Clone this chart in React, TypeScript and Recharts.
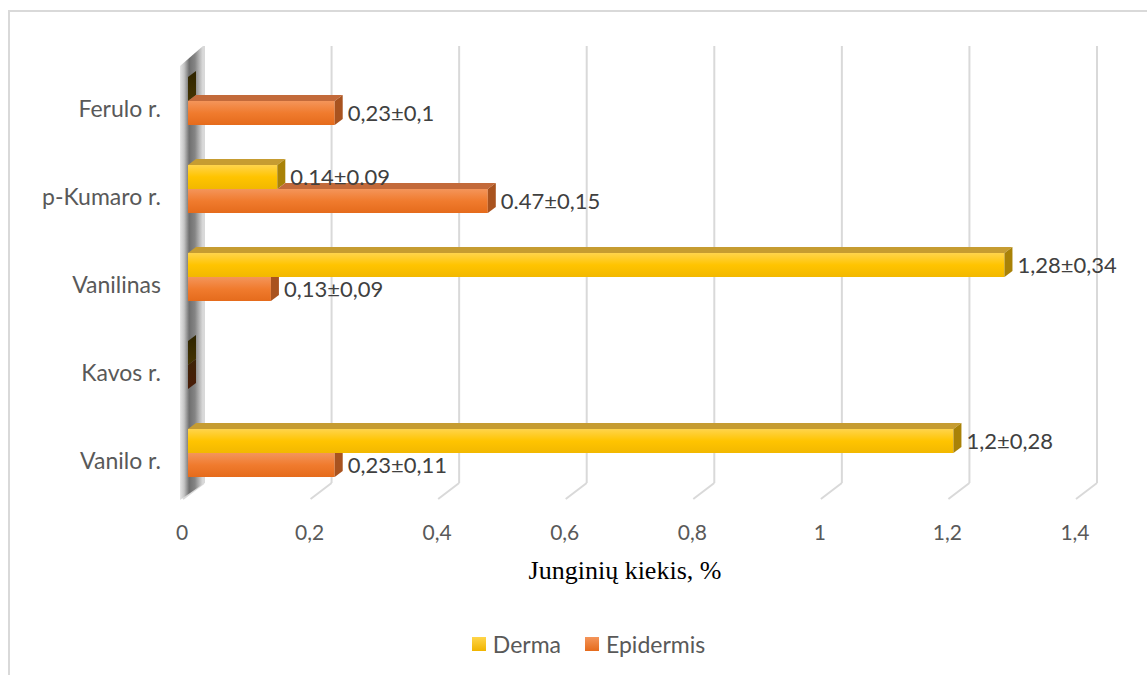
import React from "react";
import { Bar, BarChart, LabelList, Legend, ReferenceLine, XAxis, YAxis } from "recharts";

// categories listed top to bottom, as they appear in the chart
const categories = ["Ferulo r.", "p-Kumaro r.", "Vanilinas", "Kavos r.", "Vanilo r."];
const dermaValues = [0, 0.14, 1.28, 0, 1.2];
const epidermisValues = [0.23, 0.47, 0.13, 0, 0.23];
const dermaLabels = ["", "0.14±0.09", "1,28±0,34", "", "1,2±0,28"];
const epidermisLabels = ["0,23±0,1", "0.47±0,15", "0,13±0,09", "", "0,23±0,11"];
const xTicks = [0, 0.2, 0.4, 0.6, 0.8, 1, 1.2, 1.4];

const data = categories.map((name, i) => ({
  name,
  derma: dermaValues[i],
  epidermis: epidermisValues[i],
  dermaLabel: dermaLabels[i],
  epidermisLabel: epidermisLabels[i],
}));

const W = 1137;
const H = 663;
const PLOT_TOP = 45;
const PLOT_BOTTOM = 484;
// fake 3D depth of the bars
const DX = 8;
const DY = 6;

const FONT = "Lato, 'Noto Sans', sans-serif";
const TEXT = "#595959";

const fmtTick = (v: number) => String(v).replace(".", ",");

function GridShape(props: any) {
  const x = props.x1;
  const bx = x + 16;
  return (
    <g>
      <line x1={bx} y1={PLOT_TOP - 11} x2={bx} y2={PLOT_BOTTOM - 13} stroke="#d9d9d9" strokeWidth={2} />
      <line x1={bx} y1={PLOT_BOTTOM - 13} x2={x - 5} y2={PLOT_BOTTOM + 3} stroke="#d9d9d9" strokeWidth={2} />
    </g>
  );
}

function WallShape(props: any) {
  const x = props.x1;
  const pts = [
    [x - 8, PLOT_TOP + 9],
    [x + 15, PLOT_TOP - 11],
    [x + 15, PLOT_BOTTOM - 12],
    [x - 8, PLOT_BOTTOM + 4],
  ]
    .map((p) => p.join(","))
    .join(" ");
  return <polygon points={pts} fill="url(#wallGrad)" />;
}

function poly(p: number[][]) {
  return p.map((q) => q.join(",")).join(" ");
}

function DermaShape(props: any) {
  const { x, y, width, height } = props;
  if (width <= 0.5) {
    return (
      <polygon
        points={poly([[x, y], [x + DX, y - DY], [x + DX, y + height - DY], [x, y + height]])}
        fill="url(#darkYellow)"
      />
    );
  }
  return (
    <g>
      <rect x={x} y={y} width={width} height={height} fill="url(#yellowFront)" />
      <polygon points={poly([[x, y], [x + width, y], [x + width + DX, y - DY], [x + DX, y - DY]])} fill="#c69c31" />
      <polygon
        points={poly([[x + width, y], [x + width + DX, y - DY], [x + width + DX, y + height - DY], [x + width, y + height]])}
        fill="#a98207"
      />
    </g>
  );
}

function EpidermisShape(props: any) {
  const { x, y, width, height, payload } = props;
  if (width <= 0.5) {
    return (
      <polygon
        points={poly([[x, y], [x + DX, y - DY], [x + DX, y + height - DY], [x, y + height]])}
        fill="url(#darkOrange)"
      />
    );
  }
  // the derma bar sits on top of this one and hides part of the top face
  const pxPerUnit = width / payload.epidermis;
  const dw = payload.derma * pxPerUnit;
  const showTop = dw < width;
  const sideTop = showTop ? y - DY : y;
  return (
    <g>
      <rect x={x} y={y} width={width} height={height} fill="url(#orangeFront)" />
      {showTop && (
        <polygon
          points={poly([[x + dw, y], [x + width, y], [x + width + DX, y - DY], [x + dw + DX, y - DY]])}
          fill="#c36a3a"
        />
      )}
      <polygon
        points={poly([[x + width, y], [x + width + DX, sideTop], [x + width + DX, y + height - DY], [x + width, y + height]])}
        fill="#a9531f"
      />
    </g>
  );
}

function XTick(props: any) {
  const { x, y, payload } = props;
  return (
    <text x={x - 6} y={y + 34} textAnchor="middle" dominantBaseline="central" fill={TEXT} fontSize={21} fontFamily={FONT}>
      {fmtTick(payload.value)}
    </text>
  );
}

function YTick(props: any) {
  const { x, y, payload } = props;
  return (
    <text x={x - 27} y={y + 7} textAnchor="end" dominantBaseline="central" fill={TEXT} fontSize={23} fontFamily={FONT}>
      {payload.value}
    </text>
  );
}

function LegendContent() {
  const items = [
    { name: "Derma", grad: "linear-gradient(#ffd54a, #f0b400)" },
    { name: "Epidermis", grad: "linear-gradient(#f4955a, #e56b1c)" },
  ];
  return (
    <div style={{ display: "flex", justifyContent: "center", gap: 24, paddingLeft: 86, marginTop: -4 }}>
      {items.map((it) => (
        <div key={it.name} style={{ display: "flex", alignItems: "center", gap: 7 }}>
          <span style={{ width: 14, height: 14, background: it.grad, display: "inline-block" }} />
          <span style={{ fontFamily: FONT, fontSize: 23, color: TEXT }}>{it.name}</span>
        </div>
      ))}
    </div>
  );
}

export default function App() {
  return (
    <div
      style={{
        position: "absolute",
        left: 8,
        top: 10,
        borderLeft: "2px solid #d9d9d9",
        borderTop: "2px solid #d9d9d9",
        background: "#fff",
      }}
    >
      <BarChart
        width={W}
        height={H}
        data={data}
        layout="vertical"
        margin={{ top: PLOT_TOP, right: 66, left: 0, bottom: 1 }}
        barSize={24}
        barGap={0}
      >
        <defs>
          <linearGradient id="yellowFront" x1="0" y1="0" x2="0" y2="1">
            <stop offset="0%" stopColor="#ffd44c" />
            <stop offset="50%" stopColor="#ffc400" />
            <stop offset="100%" stopColor="#f2b800" />
          </linearGradient>
          <linearGradient id="orangeFront" x1="0" y1="0" x2="0" y2="1">
            <stop offset="0%" stopColor="#f4955a" />
            <stop offset="50%" stopColor="#f07b2e" />
            <stop offset="100%" stopColor="#e56b1c" />
          </linearGradient>
          <linearGradient id="darkYellow" x1="0" y1="0" x2="0" y2="1">
            <stop offset="0%" stopColor="#2e2400" />
            <stop offset="100%" stopColor="#453400" />
          </linearGradient>
          <linearGradient id="darkOrange" x1="0" y1="0" x2="0" y2="1">
            <stop offset="0%" stopColor="#3d2406" />
            <stop offset="100%" stopColor="#4a1c08" />
          </linearGradient>
          <linearGradient id="wallGrad" x1="0" y1="0" x2="1" y2="0">
            <stop offset="0%" stopColor="#e6e6e6" />
            <stop offset="18%" stopColor="#c4c4c4" />
            <stop offset="40%" stopColor="#6f6f6f" />
            <stop offset="65%" stopColor="#858585" />
            <stop offset="85%" stopColor="#b8b8b8" />
            <stop offset="100%" stopColor="#dcdcdc" />
          </linearGradient>
        </defs>
        <XAxis
          type="number"
          domain={[0, 1.4]}
          ticks={xTicks}
          axisLine={false}
          tickLine={false}
          tickSize={0}
          tickMargin={0}
          height={137}
          tick={<XTick />}
          interval={0}
          label={() => (
            <text
              x={615}
              y={558}
              textAnchor="middle"
              dominantBaseline="central"
              fontFamily="'Liberation Serif', 'Times New Roman', serif"
              fontSize={26}
              fill="#000"
            >
              Junginių kiekis, %
            </text>
          )}
        />
        <YAxis
          type="category"
          dataKey="name"
          width={178}
          axisLine={false}
          tickLine={false}
          tickSize={0}
          tickMargin={0}
          tick={<YTick />}
          interval={0}
        />
        {xTicks.map((v) => (
          <ReferenceLine key={v} x={v} shape={GridShape} zIndex={-60} />
        ))}
        <ReferenceLine x={0} shape={WallShape} zIndex={-50} />
        <Bar dataKey="derma" name="Derma" fill="#ffc000" shape={DermaShape} isAnimationActive={false}>
          <LabelList dataKey="dermaLabel" position="right" offset={13} fill="#404040" fontSize={22} fontFamily={FONT} />
        </Bar>
        <Bar dataKey="epidermis" name="Epidermis" fill="#ed7d31" shape={EpidermisShape} isAnimationActive={false}>
          <LabelList dataKey="epidermisLabel" position="right" offset={13} fill="#404040" fontSize={22} fontFamily={FONT} />
        </Bar>
        <Legend verticalAlign="bottom" height={40} content={<LegendContent />} />
      </BarChart>
    </div>
  );
}
